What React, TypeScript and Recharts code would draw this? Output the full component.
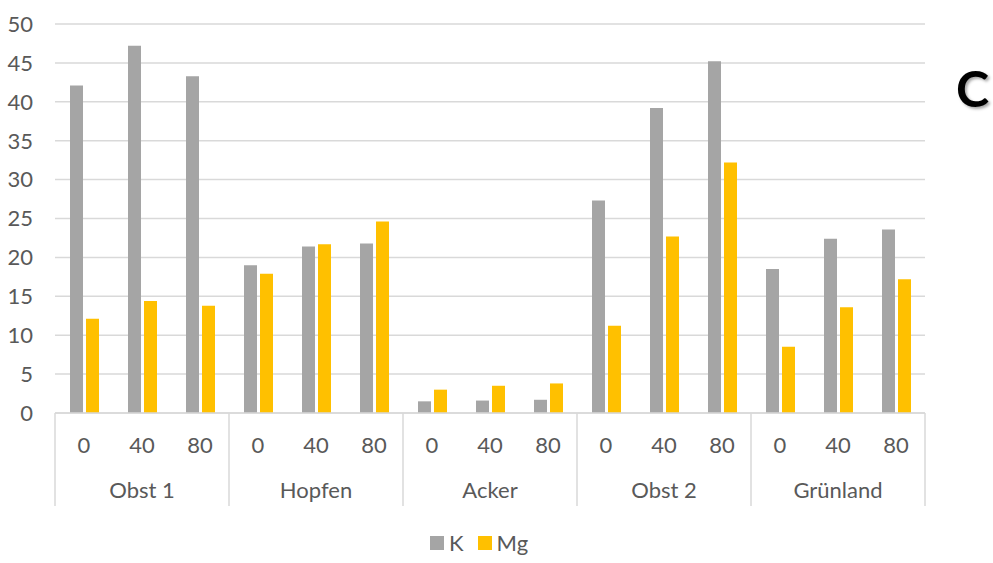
import { BarChart, Bar, XAxis, YAxis, CartesianGrid, Legend } from "recharts";

const GROUPS = ["Obst 1", "Hopfen", "Acker", "Obst 2", "Grünland"];
const DOSES = ["0", "40", "80"];
const K_VALUES = [42.1, 47.2, 43.3, 19.0, 21.4, 21.8, 1.5, 1.6, 1.7, 27.3, 39.2, 45.2, 18.5, 22.4, 23.6];
const MG_VALUES = [12.1, 14.4, 13.8, 17.9, 21.7, 24.6, 3.0, 3.5, 3.8, 11.2, 22.7, 32.2, 8.5, 13.6, 17.2];
const Y_TICKS = [0, 5, 10, 15, 20, 25, 30, 35, 40, 45, 50];

const GRAY = "#a5a5a5";
const GOLD = "#ffc000";
const TEXT = "#595959";
const GRID = "#d9d9d9";
const FONT = "Lato, 'Open Sans', sans-serif";

const W = 993;
const H = 563;
const MARGIN = { top: 24, right: 68, left: 0, bottom: 0 };
const Y_AXIS_W = 55;
const PLOT_W = W - MARGIN.right - MARGIN.left - Y_AXIS_W;

const data = K_VALUES.map((k, i) => ({
  id: i,
  dose: DOSES[i % DOSES.length],
  group: GROUPS[Math.floor(i / DOSES.length)],
  K: k,
  Mg: MG_VALUES[i],
}));

const BAND = PLOT_W / data.length;

// two-level category axis: dose on top, field group below, with separators
function GroupTick(props: any) {
  const { x, y, index } = props;
  const row = data[index];
  if (!row) return null;
  const lineTop = y;
  const lineBottom = y + 93;
  return (
    <g>
      <text x={x} y={y + 40} textAnchor="middle" fill={TEXT} fontSize={22} fontFamily={FONT}>
        {row.dose}
      </text>
      {index % 3 === 1 && (
        <text x={x} y={y + 85} textAnchor="middle" fill={TEXT} fontSize={22} fontFamily={FONT}>
          {row.group}
        </text>
      )}
      {index % 3 === 0 && (
        <line x1={x - BAND / 2} x2={x - BAND / 2} y1={lineTop} y2={lineBottom} stroke={GRID} strokeWidth={1.5} />
      )}
      {index === data.length - 1 && (
        <line x1={x + BAND / 2} x2={x + BAND / 2} y1={lineTop} y2={lineBottom} stroke={GRID} strokeWidth={1.5} />
      )}
    </g>
  );
}

function LegendContent() {
  const items = [
    { name: "K", color: GRAY },
    { name: "Mg", color: GOLD },
  ];
  return (
    <div style={{ display: "flex", marginLeft: 430, paddingTop: 16, fontFamily: FONT, fontSize: 22, color: TEXT }}>
      {items.map((it) => (
        <div key={it.name} style={{ display: "flex", alignItems: "center", marginRight: 14 }}>
          <span style={{ width: 14, height: 14, background: it.color, display: "inline-block", marginRight: 5 }} />
          <span>{it.name}</span>
        </div>
      ))}
    </div>
  );
}

export default function App() {
  return (
    <div style={{ position: "absolute", left: 0, top: 0, width: W, height: H, background: "#fff" }}>
      <BarChart width={W} height={H} data={data} margin={MARGIN} barSize={13} barGap={3}>
        <CartesianGrid vertical={false} stroke={GRID} strokeWidth={1.5} />
        <XAxis
          dataKey="id"
          interval={0}
          height={100}
          tickLine={false}
          tickSize={0}
          tickMargin={0}
          axisLine={{ stroke: GRID, strokeWidth: 1.5 }}
          tick={<GroupTick />}
        />
        <YAxis
          width={Y_AXIS_W}
          domain={[0, 50]}
          ticks={Y_TICKS}
          axisLine={false}
          tickLine={false}
          tickSize={0}
          tickMargin={22}
          tick={{ fill: TEXT, fontSize: 22, fontFamily: FONT }}
        />
        <Legend verticalAlign="bottom" height={50} content={<LegendContent />} />
        <Bar dataKey="K" fill={GRAY} isAnimationActive={false} />
        <Bar dataKey="Mg" fill={GOLD} isAnimationActive={false} />
      </BarChart>
      <div
        style={{
          position: "absolute",
          left: 956,
          top: 58,
          fontFamily: FONT,
          fontWeight: 700,
          fontSize: 50,
          color: "#000",
          textShadow: "2px 2px 3px rgba(0,0,0,0.35)",
        }}
      >
        C
      </div>
    </div>
  );
}
